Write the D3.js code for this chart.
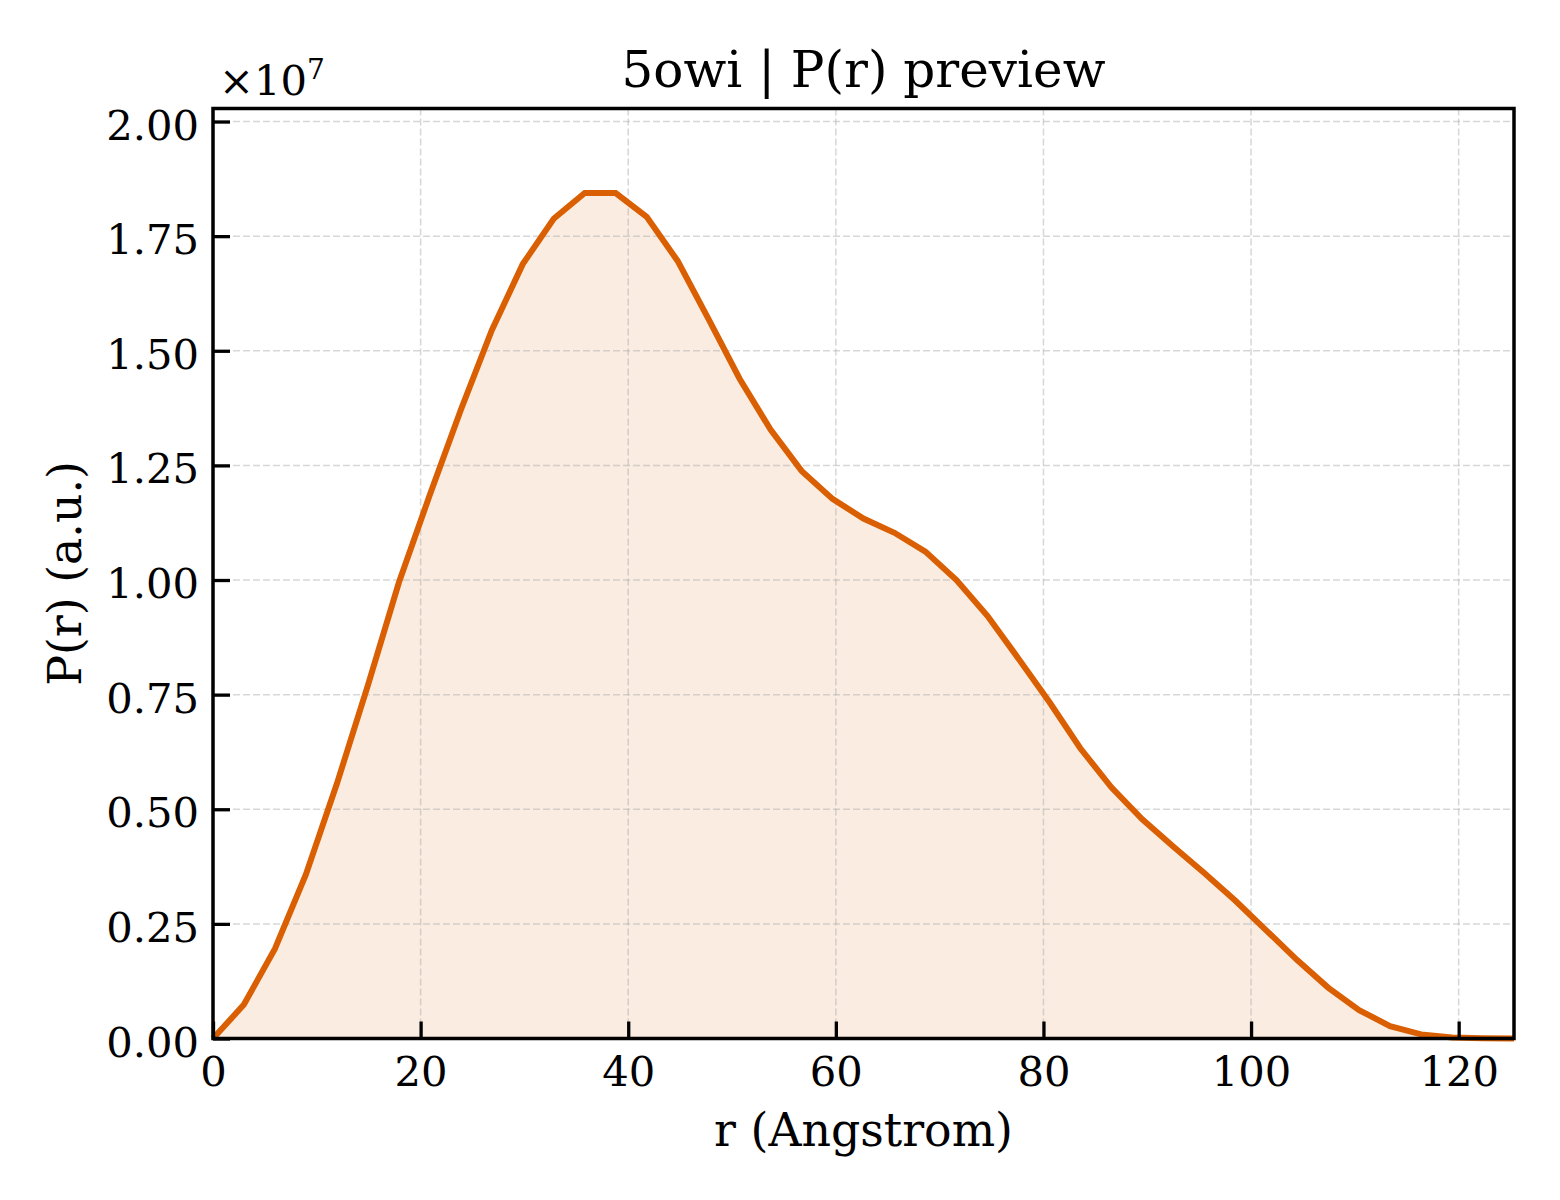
<!DOCTYPE html>
<html>
<head>
<meta charset="utf-8">
<script src="https://cdn.jsdelivr.net/npm/d3@7"></script>
<style>
  body { margin: 0; background: #fff; }
  text { font-family: "DejaVu Serif", serif; fill: #000; }
</style>
</head>
<body>
<div id="chart"></div>
<script>
const rValues = [0, 2.98, 5.97, 8.95, 11.94, 14.92, 17.90, 20.89, 23.87, 26.86,
  29.84, 32.82, 35.81, 38.79, 41.78, 44.76, 47.74, 50.73, 53.71, 56.70,
  59.68, 62.66, 65.65, 68.63, 71.62, 74.60, 77.58, 80.57, 83.55, 86.54,
  89.52, 92.50, 95.49, 98.47, 101.46, 104.44, 107.42, 110.41, 113.39, 116.38,
  119.36, 122.34, 125.33];
const prValues = [0, 0.074, 0.196, 0.358, 0.556, 0.770, 0.994, 1.186, 1.371, 1.545,
  1.689, 1.788, 1.844, 1.844, 1.792, 1.696, 1.569, 1.439, 1.328, 1.238,
  1.177, 1.134, 1.103, 1.062, 1.000, 0.922, 0.829, 0.734, 0.633, 0.548,
  0.478, 0.419, 0.361, 0.301, 0.236, 0.171, 0.111, 0.062, 0.027, 0.009,
  0.002, 0.0005, 0];
const xTicks = [0, 20, 40, 60, 80, 100, 120];
const yTicks = [0, 0.25, 0.5, 0.75, 1.0, 1.25, 1.5, 1.75, 2.0];

const title = "5owi | P(r) preview";
const xLabel = "r (Angstrom)";
const yLabel = "P(r) (a.u.)";

const W = 1560, H = 1200;
const margin = { top: 108.5, right: 46, bottom: 161.5, left: 213 };
const width = W - margin.left - margin.right,
      height = H - margin.top - margin.bottom;

const data = rValues.map((r, i) => ({ r: r, p: prValues[i] }));

const x = d3.scaleLinear()
  .domain([0, d3.max(rValues)])
  .range([0, width]);

const y = d3.scaleLinear()
  .domain([0, d3.max(prValues) * 1.1])
  .range([height, 0]);

const svg = d3.select("#chart").append("svg")
  .attr("width", W)
  .attr("height", H);

const g = svg.append("g")
  .attr("transform", `translate(${margin.left},${margin.top})`);

const color = "#d95f02";

// filled area under the curve
g.append("path")
  .datum(data)
  .attr("fill", color)
  .attr("fill-opacity", 0.12)
  .attr("d", d3.area().x(d => x(d.r)).y0(y(0)).y1(d => y(d.p)));

// dashed grid
const grid = g.append("g").attr("class", "grid");
grid.selectAll(".gx")
  .data(xTicks)
  .enter().append("line")
    .attr("class", "gx")
    .attr("x1", d => x(d)).attr("x2", d => x(d))
    .attr("y1", 0).attr("y2", height);
grid.selectAll(".gy")
  .data(yTicks)
  .enter().append("line")
    .attr("class", "gy")
    .attr("x1", 0).attr("x2", width)
    .attr("y1", d => y(d)).attr("y2", d => y(d));
grid.selectAll("line")
  .attr("stroke", "#b0b0b0")
  .attr("stroke-opacity", 0.5)
  .attr("stroke-width", 1.5)
  .attr("stroke-dasharray", "7,3");

// the P(r) curve
g.append("path")
  .datum(data)
  .attr("fill", "none")
  .attr("stroke", color)
  .attr("stroke-width", 6)
  .attr("stroke-linejoin", "miter")
  .attr("d", d3.line().x(d => x(d.r)).y(d => y(d.p)));

// axes with inward ticks
const xAxis = g.append("g")
  .attr("transform", `translate(0,${height})`)
  .call(d3.axisBottom(x).tickValues(xTicks).tickSize(-17).tickPadding(18).tickFormat(d3.format("d")));
const yAxis = g.append("g")
  .call(d3.axisLeft(y).tickValues(yTicks).tickSize(-17).tickPadding(14).tickFormat(d3.format(".2f")));

[xAxis, yAxis].forEach(a => {
  a.select(".domain").remove();
  a.selectAll(".tick line").attr("stroke", "#000").attr("stroke-width", 3.3);
  a.selectAll(".tick text")
    .style("font-family", "DejaVu Serif")
    .style("font-size", "41.7px")
    .attr("fill", "#000");
});
yAxis.selectAll(".tick text").attr("dy", "0.42em");

// frame
g.append("rect")
  .attr("width", width)
  .attr("height", height)
  .attr("fill", "none")
  .attr("stroke", "#000")
  .attr("stroke-width", 3.5);

// offset text  x10^7
const off = svg.append("text")
  .attr("x", margin.left + 6)
  .attr("y", 95)
  .style("font-size", "41.7px");
off.append("tspan").text("\u00d710");
off.append("tspan").attr("dy", -16).style("font-size", "28px").text("7");

// title and labels
svg.append("text")
  .attr("x", margin.left + width / 2)
  .attr("y", 86.5)
  .attr("text-anchor", "middle")
  .style("font-size", "50px")
  .text(title);

svg.append("text")
  .attr("x", margin.left + width / 2)
  .attr("y", 1146)
  .attr("text-anchor", "middle")
  .style("font-size", "45.8px")
  .text(xLabel);

svg.append("text")
  .attr("transform", `translate(81,${margin.top + height / 2}) rotate(-90)`)
  .attr("text-anchor", "middle")
  .style("font-size", "45.8px")
  .text(yLabel);
</script>
</body>
</html>
